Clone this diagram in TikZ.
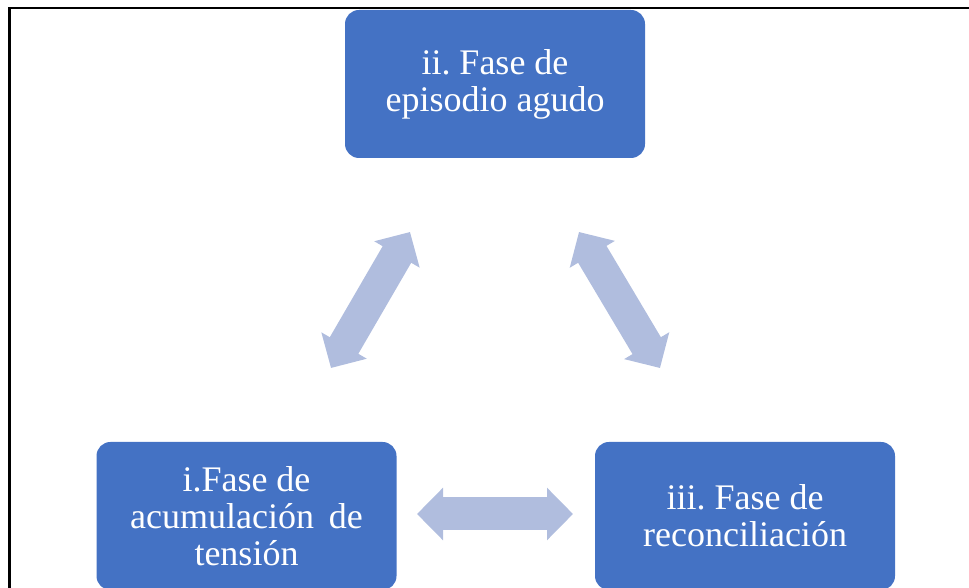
\documentclass[tikz,border=0pt]{standalone}
\usepackage{fontspec}
\setmainfont{Liberation Serif}
\usepackage{xcolor}
\usepackage{tikz}
\usetikzlibrary{arrows.meta}
\usetikzlibrary{positioning}

\definecolor{phaseblue}{RGB}{68,114,196}
\definecolor{linkblue}{RGB}{176,189,222}
\frenchspacing

\begin{document}
\begin{tikzpicture}[x=1pt, y=1pt,
		phase/.style = {fill=phaseblue, rounded corners=14pt, minimum width=300pt, minimum height=148pt, inner sep=0pt, text=white, align=center, font=\fontsize{36}{37}\selectfont},
		link/.style = {draw=linkblue, line width=33pt, {Triangle[length=26pt 0 0, width=51pt 0 0]}-{Triangle[length=26pt 0 0, width=51pt 0 0]}}]
		\useasboundingbox (0,0) rectangle (969,588);
		\begin{scope}
			\clip (0,0) rectangle (969,588);
			\draw[line width=2.5pt] (9.5,-5) -- (9.5,580) -- (980,580);
			
			\node[phase] (B) at (495,504) {ii. Fase de\\episodio agudo};
			\node[phase] (A) at (246.5,72) {i.Fase de\\acumulación\hspace{6pt} de\\tensión};
			\node[phase] (C) at (745,72) {iii. Fase de\\reconciliación};
			
			\coordinate (AB1) at (331,220);
			\coordinate (AB2) at (410,356);
			\coordinate (BC1) at (579,356);
			\coordinate (BC2) at (660,220);
			\coordinate (CA1) at (573,74);
			\coordinate (CA2) at (417,74);
			
			\draw[link] (AB1) -- (AB2);
			\draw[link] (BC1) -- (BC2);
			\draw[link] (CA1) -- (CA2);
		\end{scope}
	\end{tikzpicture}
\end{document}
